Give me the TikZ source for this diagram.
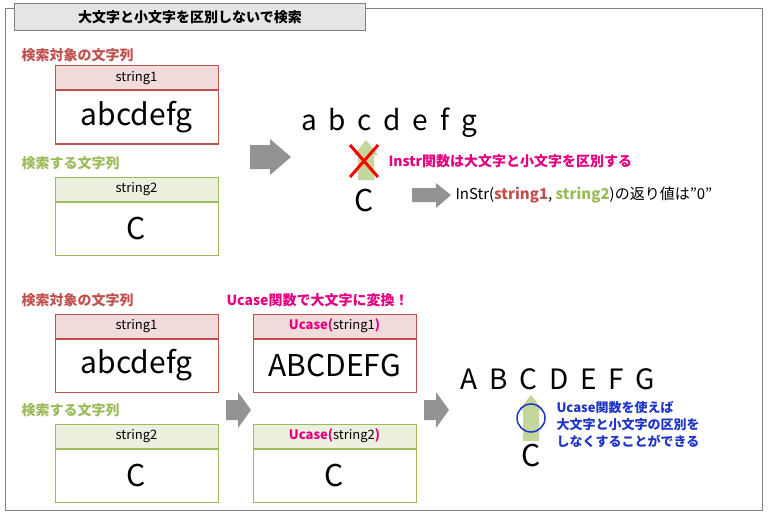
\documentclass[tikz,border=0pt]{standalone}
\usepackage{fontspec}
\setmainfont{Noto Sans CJK JP}
\definecolor{rd}{HTML}{C0504D}
\definecolor{gr}{HTML}{9BBB59}
\definecolor{pk}{HTML}{F2DCDB}
\definecolor{lg}{HTML}{EBF1DE}
\definecolor{mg}{HTML}{E4007F}
\definecolor{bl}{HTML}{1F35C8}
\definecolor{ga}{HTML}{C4D79B}
\tikzset{
 hd/.style={draw=#1,line width=1pt,minimum width=163pt,minimum height=24pt,inner sep=0pt,font=\fontsize{13}{13}\selectfont},
 bd/.style={draw=#1,line width=1pt,fill=white,minimum width=163pt,minimum height=53pt,inner sep=0pt},
 lab/.style={anchor=west,font=\bfseries\fontsize{14}{14}\selectfont,text=#1},
 garrow/.style={fill=gray!85,draw=none},
 uparr/.style={fill=ga,draw=none},
 big/.style={font=\fontsize{30}{30}\selectfont},
 seq/.style={font=\fontsize{28}{28}\selectfont}
}
\newcommand{\lsp}{\hspace{0.42em}}
\begin{document}
\begin{tikzpicture}[x=1pt,y=-1pt]
\useasboundingbox (0,0) rectangle (768,516);
\node[draw=gray,line width=1pt,minimum width=757pt,minimum height=502pt,anchor=north west] (frame) at (5,8) {};
\node[draw=gray,fill=gray!20,line width=1pt,minimum width=351pt,minimum height=27pt,anchor=north west,font=\bfseries\fontsize{14}{14}\selectfont] (title) at (14,3) {大文字と小文字を区別しないで検索};
% top left
\node[lab=rd] (l1) at (18,55) {検索対象の文字列};
\node[hd=rd,fill=pk] (h1) at (136.5,78) {string1};
\node[bd=rd,big,anchor=north] (b1) at (h1.south) {abcdefg};
\node[lab=gr] (l2) at (18,163) {検索する文字列};
\node[hd=gr,fill=lg] (h2) at (136.5,189) {string2};
\node[bd=gr,big,anchor=north] (b2) at (h2.south) {C};
\fill[garrow] (250,145) -- (270,145) -- (270,139) -- (291,157) -- (270,175) -- (270,169) -- (250,169) -- cycle;
\node[seq] (s1) at (389,123) {a\lsp b\lsp c\lsp d\lsp e\lsp f\lsp g};
\fill[uparr] (358,180) -- (358,155) -- (354,155) -- (366,140) -- (378,155) -- (374,155) -- (374,180) -- cycle;
\draw[red,line width=3pt] (350,145) -- (378,177) (378,145) -- (350,177);
\node[big] (c1) at (364,201) {C};
\node[anchor=west,text=mg,font=\bfseries\fontsize{14}{14}\selectfont] (t1) at (385,161) {Instr関数は大文字と小文字を区別する};
\fill[garrow] (412,188) -- (436,188) -- (436,183) -- (451,195) -- (436,208) -- (436,202) -- (412,202) -- cycle;
\node[anchor=west,font=\fontsize{15}{15}\selectfont] (t2) at (452,195) {InStr(\textcolor{rd}{\bfseries string1}, \textcolor{gr}{\bfseries string2})の返り値は”0”};
% bottom
\node[lab=rd] (l3) at (18,300) {検索対象の文字列};
\node[hd=rd,fill=pk] (h3) at (136.5,326) {string1};
\node[bd=rd,big,anchor=north] (b3) at (h3.south) {abcdefg};
\node[lab=gr] (l4) at (18,410) {検索する文字列};
\node[hd=gr,fill=lg] (h4) at (136.5,436) {string2};
\node[bd=gr,big,anchor=north] (b4) at (h4.south) {C};
\node[lab=mg] (t3) at (223,300) {Ucase関数で大文字に変換！};
\node[hd=rd,fill=pk] (h5) at (334.5,326) {\textcolor{mg}{\bfseries Ucase(}string1\textcolor{mg}{\bfseries )}};
\node[bd=rd,big,anchor=north] (b5) at (h5.south) {ABCDEFG};
\node[hd=gr,fill=lg] (h6) at (334.5,436) {\textcolor{mg}{\bfseries Ucase(}string2\textcolor{mg}{\bfseries )}};
\node[bd=gr,big,anchor=north] (b6) at (h6.south) {C};
\fill[garrow] (226,400) -- (238,400) -- (238,392) -- (251,410) -- (238,428) -- (238,420) -- (226,420) -- cycle;
\fill[garrow] (424,400) -- (436,400) -- (436,392) -- (449,410) -- (436,428) -- (436,420) -- (424,420) -- cycle;
\node[seq] (s2) at (558,379) {A\lsp B\lsp C\lsp D\lsp E\lsp F\lsp G};
\fill[uparr] (523,441) -- (523,410) -- (519,410) -- (531,395) -- (543,410) -- (539,410) -- (539,441) -- cycle;
\draw[bl,line width=1.5pt] (531,418) circle (14);
\node[big] (c2) at (531,456) {C};
\node[anchor=west,align=left,text=bl,font=\bfseries\fontsize{13}{17}\selectfont] (t4) at (553,425) {Ucase関数を使えば\\大文字と小文字の区別を\\しなくすることができる};
\end{tikzpicture}
\end{document}
